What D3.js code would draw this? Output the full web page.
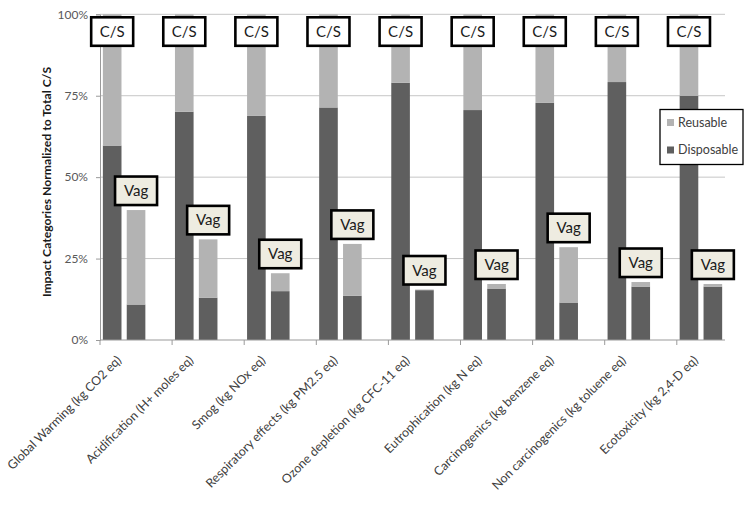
<!DOCTYPE html>
<html>
<head>
<meta charset="utf-8">
<script src="https://cdn.jsdelivr.net/npm/d3@7"></script>
<style>
  html, body { margin: 0; padding: 0; background: #fff; }
  svg { display: block; font-family: Lato, "Open Sans", sans-serif; }
</style>
</head>
<body>
<svg id="chart" width="750" height="512"></svg>
<script>
// ---- data ----
const categories = [
  "Global Warming (kg CO2 eq)",
  "Acidification (H+ moles eq)",
  "Smog (kg NOx eq)",
  "Respiratory effects (kg PM2.5 eq)",
  "Ozone depletion (kg CFC-11 eq)",
  "Eutrophication (kg N eq)",
  "Carcinogenics (kg benzene eq)",
  "Non carcinogenics (kg toluene eq)",
  "Ecotoxicity (kg 2,4-D eq)"
];
const products = ["C/S", "Vag"];
// Disposable share (fraction of total C/S)
const csDisposable  = [0.597, 0.701, 0.688, 0.714, 0.790, 0.706, 0.728, 0.792, 0.750];
const csReusable    = [0.403, 0.299, 0.312, 0.286, 0.210, 0.294, 0.272, 0.208, 0.250];
const vagDisposable = [0.109, 0.130, 0.150, 0.136, 0.153, 0.158, 0.115, 0.164, 0.164];
const vagReusable   = [0.290, 0.179, 0.055, 0.159, 0.002, 0.014, 0.170, 0.014, 0.008];
const yTicks = [0, 0.25, 0.5, 0.75, 1];
const seriesNames = ["Disposable", "Reusable"];
const yTitle = "Impact Categories Normalized to Total C/S";

// ---- layout ----
const svg = d3.select("#chart");
const plotLeft = 100, plotRight = 725, plotTop = 14.3, plotBottom = 340;
const catStep = 72.1;

const x = d3.scaleBand().domain(categories)
  .range([plotLeft, plotLeft + catStep * categories.length]).padding(0);
const xSub = d3.scaleBand().domain(["C/S", "Vag", "gap"])
  .range([0, x.bandwidth()]).paddingInner(0.22).paddingOuter(0.12);
const y = d3.scaleLinear().domain([0, 1]).range([plotBottom, plotTop]);

const color = d3.scaleOrdinal().domain(seriesNames).range(["#5f5f5f", "#b3b3b3"]);

// gridlines
svg.append("g").selectAll("line").data(yTicks.filter(d => d > 0)).join("line")
  .attr("x1", plotLeft).attr("x2", plotRight)
  .attr("y1", d => y(d)).attr("y2", d => y(d))
  .attr("stroke", "#c6c6c6").attr("stroke-width", 1);

// y axis
const yAxis = d3.axisLeft(y).tickValues(yTicks).tickFormat(d3.format(".0%")).tickSize(4).tickPadding(8);
const gy = svg.append("g").attr("transform", `translate(${plotLeft},0)`).call(yAxis);
gy.select(".domain").attr("stroke", "#9a9a9a");
gy.selectAll(".tick line").attr("stroke", "#9a9a9a");
gy.selectAll(".tick text").attr("fill", "#595959").style("font-size", "12px").style("font-family", "Lato");

// stacked data
const rows = [];
categories.forEach((c, i) => {
  rows.push({cat: c, prod: "C/S", Disposable: csDisposable[i], Reusable: csReusable[i]});
  rows.push({cat: c, prod: "Vag", Disposable: vagDisposable[i], Reusable: vagReusable[i]});
});
const stack = d3.stack().keys(seriesNames)(rows);

svg.append("g").selectAll("g").data(stack).join("g")
  .attr("fill", d => color(d.key))
  .selectAll("rect").data(d => d).join("rect")
  .attr("x", d => x(d.data.cat) + xSub(d.data.prod))
  .attr("width", xSub.bandwidth())
  .attr("y", d => y(d[1]))
  .attr("height", d => y(d[0]) - y(d[1]));

// x axis
const gx = svg.append("g");
gx.append("line").attr("x1", plotLeft).attr("x2", plotRight)
  .attr("y1", plotBottom).attr("y2", plotBottom).attr("stroke", "#9a9a9a");
gx.selectAll("line.tick").data(categories).join("line").attr("class", "tick")
  .attr("x1", d => x(d)).attr("x2", d => x(d))
  .attr("y1", plotBottom).attr("y2", plotBottom + 5).attr("stroke", "#9a9a9a");
gx.selectAll("text").data(categories).join("text")
  .attr("transform", d => `translate(${x(d) + 22},${plotBottom + 21}) rotate(-45)`)
  .attr("text-anchor", "end")
  .attr("fill", "#404040")
  .style("font-size", "12.4px")
  .text(d => d);

// y title
svg.append("text")
  .attr("transform", `translate(51,182) rotate(-90)`)
  .attr("text-anchor", "middle")
  .attr("fill", "#1a1a1a")
  .style("font-size", "12.2px").style("font-weight", "bold")
  .text(yTitle);

// C/S and Vag label boxes
const boxW = 42, boxH = 28.5;
const labels = [];
categories.forEach((c, i) => {
  labels.push({cat: c, prod: "C/S", top: y(csDisposable[i] + csReusable[i]) + 3, fill: "#ffffff"});
  labels.push({cat: c, prod: "Vag", top: y(vagDisposable[i] + vagReusable[i]) - 5 - boxH, fill: "#eeece1"});
});
const lg = svg.append("g").selectAll("g").data(labels).join("g")
  .attr("transform", d => `translate(${x(d.cat) + xSub(d.prod) + xSub.bandwidth() / 2},${d.top})`);
lg.append("rect")
  .attr("x", -boxW / 2).attr("y", 0).attr("width", boxW).attr("height", boxH)
  .attr("fill", d => d.fill).attr("stroke", "#000").attr("stroke-width", 2.6);
lg.append("text")
  .attr("x", 0).attr("y", boxH / 2).attr("dy", "0.36em")
  .attr("text-anchor", "middle").attr("fill", "#1a1a1a")
  .style("font-size", "15px")
  .text(d => d.prod);

// legend
const leg = svg.append("g").attr("transform", "translate(660,109.5)");
leg.append("rect").attr("width", 83).attr("height", 55)
  .attr("fill", "#fff").attr("stroke", "#000").attr("stroke-width", 1.3);
const legItems = ["Reusable", "Disposable"];
const li = leg.selectAll("g").data(legItems).join("g")
  .attr("transform", (d, i) => `translate(7,${13 + i * 27.5})`);
li.append("rect").attr("x", 0).attr("y", -3.5).attr("width", 7).attr("height", 7)
  .attr("fill", d => color(d));
li.append("text").attr("x", 11).attr("y", 0).attr("dy", "0.35em")
  .attr("fill", "#404040").style("font-size", "12.5px").text(d => d);
</script>
</body>
</html>
